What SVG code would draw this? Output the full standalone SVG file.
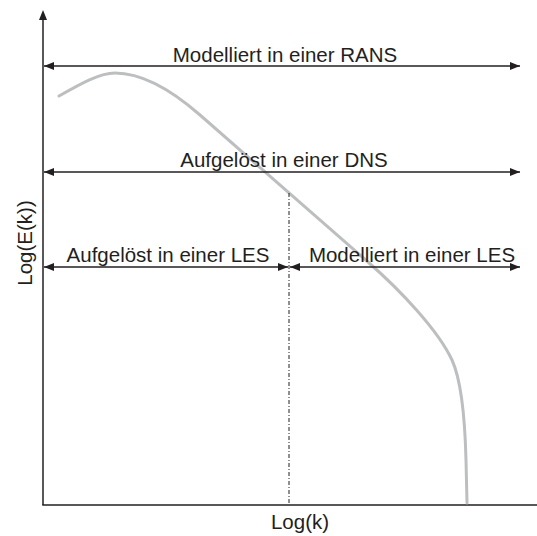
<svg xmlns="http://www.w3.org/2000/svg" width="537" height="536" viewBox="0 0 537 536">
  <style>
    .lbl { font-family: "Liberation Sans", Arial, sans-serif; font-size: 20.5px; fill: #231f20; }
    .axis { stroke: #231f20; stroke-width: 1.5; fill: none; }
    .span { stroke: #231f20; stroke-width: 1.5; fill: none; marker-start: url(#head); marker-end: url(#head); }
    .spectrum { stroke: #bcbec0; stroke-width: 3; fill: none; stroke-linecap: round; stroke-linejoin: round; }
    .cut { stroke: #231f20; stroke-width: 1; stroke-dasharray: 4 2 1 2; fill: none; }
  </style>
  <defs>
    <marker id="head" viewBox="0 0 10 8" refX="10" refY="4" markerWidth="10" markerHeight="8" markerUnits="userSpaceOnUse" orient="auto-start-reverse">
      <path d="M0,0 L10,4 L0,8 Z" fill="#231f20"/>
    </marker>
  </defs>
  <rect width="537" height="536" fill="#ffffff"/>

  <!-- axes -->
  <g id="axes">
    <line class="axis" x1="43" y1="18" x2="43" y2="505"/>
    <path d="M43,10 L47,20 L39,20 Z" fill="#231f20"/>
    <line class="axis" x1="42.25" y1="505" x2="537" y2="505"/>
    <text class="lbl" x="300" y="529" text-anchor="middle">Log(k)</text>
    <text class="lbl" transform="translate(32,243) rotate(-90)" text-anchor="middle">Log(E(k))</text>
  </g>

  <!-- energy spectrum -->
  <g id="spectrum">
    <path class="spectrum" d="M59,96 C82,83 100,73 115,73 C140,73 168,87 200,115 L368,262 C400,290 438,330 452,360 C462,382 465,420 466,460 L467,503"/>
  </g>

  <!-- filter cut-off -->
  <g id="cutoff">
    <line class="cut" x1="289" y1="193" x2="289" y2="505"/>
  </g>

  <!-- resolution ranges -->
  <g id="connectors">
    <line class="span" x1="44" y1="66" x2="520" y2="66"/>
    <line class="span" x1="44" y1="172" x2="520" y2="172"/>
    <line class="span" x1="44" y1="267" x2="288" y2="267"/>
    <line class="span" x1="290" y1="267" x2="520" y2="267"/>
  </g>

  <g id="rans">
    <text class="lbl" x="285" y="62" text-anchor="middle">Modelliert in einer RANS</text>
  </g>
  <g id="dns">
    <text class="lbl" x="284" y="167" text-anchor="middle">Aufgelöst in einer DNS</text>
  </g>
  <g id="les-resolved">
    <text class="lbl" x="168" y="262" text-anchor="middle">Aufgelöst in einer LES</text>
  </g>
  <g id="les-modelled">
    <text class="lbl" x="412" y="262" text-anchor="middle">Modelliert in einer LES</text>
  </g>
</svg>
